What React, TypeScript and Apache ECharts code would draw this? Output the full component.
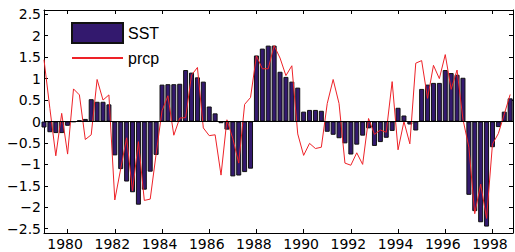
import React, { useEffect, useRef } from "react";
import * as echarts from "echarts";

// quarterly time axis: first quarter 1979, step 0.25 year
const START_YEAR = 1979;
const STEP = 0.25;

const sst = [
  -0.14, -0.25, -0.27, -0.27, -0.1, -0.01, 0.03, 0.06,
  0.52, 0.46, 0.46, 0.4, -0.79, -1.11, -1.4, -1.65,
  -1.94, -1.59, -1.17, -0.78, 0.86, 0.87, 0.87, 0.88,
  1.2, 1.14, 1.03, 0.93, 0.35, 0.19, -0.04, -0.19,
  -1.28, -1.26, -1.18, -1.1, 1.54, 1.7, 1.77, 1.77,
  1.16, 1.04, 0.93, 0.79, 0.23, 0.27, 0.27, 0.25,
  -0.24, -0.31, -0.39, -0.51, -0.77, -0.54, -0.33, -0.16,
  -0.57, -0.48, -0.38, -0.22, 0.32, 0.14, -0.07, -0.21,
  0.76, 0.86, 0.9, 0.9, 1.2, 1.13, 1.09, 1.02,
  -1.71, -2.09, -2.35, -2.45, -0.6, -0.13, 0.23, 0.54,
];

const prcp = [
  1.44, 0.3, -0.8, 0.19, -0.76, 0.76, 0.62, -0.42,
  -0.31, 0.98, 0.5, 0.62, -1.83, -1.1, -0.38, -1.62,
  -0.47, -1.84, -1.81, -0.76, 0.25, 0.6, -0.32, 0.08,
  0.09, 1.08, 1.26, -0.15, -0.33, -0.31, -1.25, 0.04,
  -0.4, -0.97, 0.4, 0.56, 1.53, 1.23, 1.23, 1.77,
  1.48, 1.07, 1.3, -0.29, -0.79, -0.51, -0.63, -0.6,
  0.42, 0.98, 0.42, -0.97, -1.02, -0.73, -1.0, 0.07,
  -0.3, -0.2, -0.25, 0.93, -0.66, 0.0, -0.52, 1.36,
  1.42, 0.54, 1.31, 1.0, 1.56, 0.75, 1.2, 0.05,
  -0.6, -2.15, -1.46, -2.26, -0.53, -0.28, 0.17, 0.63,
];

const xTicks = [1980, 1982, 1984, 1986, 1988, 1990, 1992, 1994, 1996, 1998];
const yTicks = [-2.5, -2, -1.5, -1, -0.5, 0, 0.5, 1, 1.5, 2, 2.5];

const X_MIN = 1979;
const X_MAX = 1998.87;
const Y_MIN = -2.6;
const Y_MAX = 2.6;

const FONT = "DejaVu Sans";
const BAR_COLOR = "#33196e";
const LINE_COLOR = "#ee2228";

export default function App() {
  const ref = useRef<HTMLDivElement>(null);

  useEffect(() => {
    if (!ref.current) return;
    const chart = echarts.init(ref.current, null, { renderer: "svg" });
    const t = sst.map((_, i) => START_YEAR + STEP * i);
    const sstData = sst.map((v, i) => [t[i], v]);
    const prcpData = prcp.map((v, i) => [t[i], v]);

    const yFmt = (v: number) => (v < 0 ? "\u2212" : "") + String(Math.abs(v));

    const axisLine = { show: true, onZero: false, lineStyle: { color: "#000", width: 1 } };

    chart.setOption({
      animation: false,
      backgroundColor: "#fff",
      grid: { left: 44, top: 10, width: 469, height: 223, containLabel: false },
      legend: {
        left: 71,
        top: 22,
        padding: 0,
        orient: "vertical",
        itemWidth: 51,
        itemHeight: 20,
        itemGap: 6,
        textStyle: { fontSize: 16, fontFamily: "Liberation Sans", color: "#000" },
        data: [
          { name: "SST", icon: "rect" },
          { name: "prcp", itemStyle: { opacity: 0 } },
        ],
      },
      xAxis: [
        {
          type: "value",
          position: "bottom",
          min: X_MIN,
          max: X_MAX,
          axisLine,
          axisTick: { show: true, inside: true, length: 4, customValues: xTicks, lineStyle: { color: "#000" } },
          axisLabel: {
            customValues: xTicks,
            formatter: (v: number) => String(v),
            color: "#000",
            fontSize: 14,
            fontFamily: FONT,
            margin: 4,
            padding: [0, 5, 0, 0],
          },
          splitLine: { show: false },
        },
        {
          type: "value",
          position: "top",
          min: X_MIN,
          max: X_MAX,
          axisLine,
          axisTick: { show: true, inside: true, length: 4, customValues: xTicks, lineStyle: { color: "#000" } },
          axisLabel: { show: false },
          splitLine: { show: false },
        },
      ],
      yAxis: [
        {
          type: "value",
          position: "left",
          min: Y_MIN,
          max: Y_MAX,
          axisLine,
          axisTick: { show: true, inside: true, length: 4, customValues: yTicks, lineStyle: { color: "#000" } },
          axisLabel: {
            customValues: yTicks,
            formatter: yFmt,
            color: "#000",
            fontSize: 14,
            fontFamily: FONT,
            margin: 3,
          },
          splitLine: { show: false },
        },
        {
          type: "value",
          position: "right",
          min: Y_MIN,
          max: Y_MAX,
          axisLine,
          axisTick: { show: true, inside: true, length: 4, customValues: yTicks, lineStyle: { color: "#000" } },
          axisLabel: { show: false },
          splitLine: { show: false },
        },
      ],
      series: [
        {
          name: "SST",
          type: "bar",
          xAxisIndex: 0,
          yAxisIndex: 0,
          data: sstData,
          barWidth: 5,
          clip: true,
          itemStyle: { color: BAR_COLOR, borderColor: "#111", borderWidth: 1 },
          markLine: {
            silent: true,
            symbol: "none",
            label: { show: false },
            lineStyle: { color: "#000", width: 1, type: "solid" },
            data: [{ yAxis: 0 }],
          },
        },
        {
          name: "prcp",
          type: "line",
          xAxisIndex: 0,
          yAxisIndex: 0,
          data: prcpData,
          symbol: "none",
          showSymbol: false,
          clip: true,
          lineStyle: { color: LINE_COLOR, width: 1 },
          itemStyle: { color: LINE_COLOR },
          z: 3,
        },
      ],
    });

    return () => chart.dispose();
  }, []);

  return (
    <div
      ref={ref}
      style={{ position: "absolute", left: 0, top: 0, width: 515, height: 252 }}
    />
  );
}
